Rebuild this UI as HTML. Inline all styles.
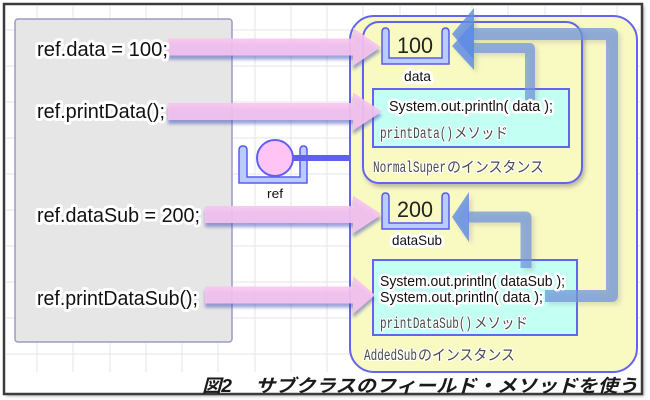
<!DOCTYPE html>
<html><head><meta charset="utf-8"><style>
html,body{margin:0;padding:0;background:#fff;}
svg{display:block}
.code{font-family:"Liberation Sans",sans-serif;font-size:20px;fill:#111;stroke:#fff;stroke-width:6;stroke-linejoin:round;paint-order:stroke}
.num{font-family:"Liberation Sans",sans-serif;font-size:22px;fill:#222}
.lbl{font-family:"Liberation Sans",sans-serif;font-size:14px;fill:#111;stroke:#fff;stroke-width:6;stroke-linejoin:round;paint-order:stroke}
.pr{font-family:"Liberation Sans",sans-serif;font-size:15px;fill:#111;stroke:#fff;stroke-width:5;stroke-linejoin:round;paint-order:stroke}
.gm{font-family:"Liberation Mono",monospace;font-size:16px;fill:#4a4a4a;stroke:#fff;stroke-width:2.5;stroke-linejoin:round;paint-order:stroke}
.gk{font-family:"Liberation Sans","Noto Sans CJK JP",sans-serif;font-size:15px;fill:#4a4a4a;stroke:#fff;stroke-width:2.5;stroke-linejoin:round;paint-order:stroke}
.cap{font-family:"Liberation Sans","Noto Sans CJK JP",sans-serif;font-size:18px;font-style:italic;fill:#1a1a1a;font-weight:bold}
</style></head><body>
<svg width="650" height="400" viewBox="0 0 650 400" xmlns="http://www.w3.org/2000/svg">
<defs>
<filter id="blur" x="-10%" y="-30%" width="120%" height="160%"><feGaussianBlur stdDeviation="1.5"/></filter>
<filter id="ds" x="-10%" y="-10%" width="125%" height="125%"><feDropShadow dx="2" dy="3" stdDeviation="2" flood-color="#777" flood-opacity=".5"/></filter>
<filter id="bs" x="-20%" y="-20%" width="140%" height="140%"><feDropShadow dx="3" dy="3" stdDeviation="2" flood-color="#888" flood-opacity=".35"/></filter>
</defs>

<!-- frame -->
<rect x="6" y="6" width="638" height="390" fill="#aaa" filter="url(#blur)"/>
<rect x="4" y="4" width="638" height="390" fill="#fff" stroke="#3c3c3c" stroke-width="2.5"/>

<!-- grid -->
<g stroke="#e6e6e6" stroke-width="1">
<line x1="37" y1="6" x2="37" y2="372"/><line x1="73" y1="6" x2="73" y2="372"/><line x1="110" y1="6" x2="110" y2="372"/><line x1="146" y1="6" x2="146" y2="372"/><line x1="182" y1="6" x2="182" y2="372"/><line x1="218" y1="6" x2="218" y2="372"/><line x1="255" y1="6" x2="255" y2="372"/><line x1="291" y1="6" x2="291" y2="372"/><line x1="327" y1="6" x2="327" y2="372"/><line x1="363" y1="6" x2="363" y2="372"/><line x1="400" y1="6" x2="400" y2="372"/><line x1="436" y1="6" x2="436" y2="372"/><line x1="472" y1="6" x2="472" y2="372"/><line x1="508" y1="6" x2="508" y2="372"/><line x1="545" y1="6" x2="545" y2="372"/><line x1="581" y1="6" x2="581" y2="372"/><line x1="617" y1="6" x2="617" y2="372"/>
<line x1="6" y1="30" x2="640" y2="30"/><line x1="6" y1="66" x2="640" y2="66"/><line x1="6" y1="102" x2="640" y2="102"/><line x1="6" y1="138" x2="640" y2="138"/><line x1="6" y1="174" x2="640" y2="174"/><line x1="6" y1="210" x2="640" y2="210"/><line x1="6" y1="246" x2="640" y2="246"/><line x1="6" y1="282" x2="640" y2="282"/><line x1="6" y1="318" x2="640" y2="318"/><line x1="6" y1="354" x2="640" y2="354"/>
</g>

<!-- gray box -->
<rect x="15" y="19" width="217" height="323" rx="3" fill="#e6e6e6" stroke="#9c9cc4" stroke-width="1.5"/>

<!-- yellow container -->
<rect x="350" y="16" width="287" height="356" rx="24" fill="#f9f9c2" stroke="#6464f0" stroke-width="2"/>
<rect x="363" y="22" width="219" height="161" rx="16" fill="#f9f9c2" stroke="#6464f0" stroke-width="2" filter="url(#ds)"/>

<!-- cyan boxes -->
<rect x="373" y="89" width="196" height="58" fill="#c4fff4" stroke="#6464f0" stroke-width="2"/>
<rect x="373" y="260" width="204" height="75" fill="#c4fff4" stroke="#6464f0" stroke-width="2"/>

<!-- cups -->
<path d="M382,32 Q382,28 385.5,28 Q389,28 389,32 V58 H442 V32 Q442,28 445.5,28 Q449,28 449,32 V64 H382 Z" fill="#b8ccff" stroke="#5a5af0" stroke-width="1.5"/>
<path d="M382,197 Q382,193 385.5,193 Q389,193 389,197 V223 H442 V197 Q442,193 445.5,193 Q449,193 449,197 V229 H382 Z" fill="#b8ccff" stroke="#5a5af0" stroke-width="1.5"/>

<!-- ref cup -->
<path d="M239,150 Q239,146 243,146 Q247,146 247,150 V177 H300 V150 Q300,146 303.5,146 Q307,146 307,150 V183 H239 Z" fill="#b8ccff" stroke="#5a5af0" stroke-width="1.5"/>
<line x1="290" y1="158" x2="350" y2="158" stroke="#6060f0" stroke-width="6"/>
<circle cx="275" cy="158" r="18" fill="#ffc4f4" stroke="#6060f0" stroke-width="2"/>

<!-- blue arrows -->
<g filter="url(#bs)">
<polyline points="545,296 612,296 612,34 472,34" fill="none" stroke="#6d94dd" stroke-width="12" stroke-linejoin="round" opacity=".72"/>
<polygon points="452,34 474,8 474,60" fill="#5d8be6" opacity=".8"/>
<polyline points="530,100 530,48 472,48" fill="none" stroke="#6d94dd" stroke-width="10" stroke-linejoin="round" opacity=".72"/>
<polygon points="452,46 474,22 474,70" fill="#5d8be6" opacity=".8"/>
<polyline points="526,268 526,217 468,217" fill="none" stroke="#6d94dd" stroke-width="11" stroke-linejoin="round" opacity=".72"/>
<polygon points="452,217 469,192 469,242" fill="#5d8be6" opacity=".8"/>
</g>

<!-- pink arrows: shadows -->
<g fill="#4858b8" opacity=".55" filter="url(#blur)">
<path d="M168,42.5 H353 V32 L381,51 L353,70 V59.5 H168 Z"/>
<path d="M168,107 H353 V96.5 L382,115.5 L353,134.5 V124 H168 Z"/>
<path d="M205,210 H353 V199.5 L382,218.5 L353,237.5 V227 H205 Z"/>
<path d="M205,290.5 H353 V280 L375,299 L353,318 V307.5 H205 Z"/>
</g>
<!-- pink arrows -->
<g fill="#f8c4f0" opacity=".9">
<path d="M168,38.5 H353 V28 L381,47 L353,66 V55.5 H168 Z"/>
<path d="M168,103 H353 V92.5 L382,111.5 L353,130.5 V120 H168 Z"/>
<path d="M205,206 H353 V195.5 L382,214.5 L353,233.5 V223 H205 Z"/>
<path d="M205,286.5 H353 V276 L375,295 L353,314 V303.5 H205 Z"/>
</g>

<!-- left code text -->
<text class="code" x="37" y="56" textLength="131" lengthAdjust="spacingAndGlyphs">ref.data = 100;</text>
<text class="code" x="37" y="118" textLength="128" lengthAdjust="spacingAndGlyphs">ref.printData();</text>
<text class="code" x="37" y="222" textLength="163" lengthAdjust="spacingAndGlyphs">ref.dataSub = 200;</text>
<text class="code" x="37" y="305" textLength="161" lengthAdjust="spacingAndGlyphs">ref.printDataSub();</text>

<!-- cup values -->
<text class="num" x="397" y="53" textLength="36" lengthAdjust="spacingAndGlyphs">100</text>
<text class="num" x="397" y="217" textLength="36" lengthAdjust="spacingAndGlyphs">200</text>
<text class="lbl" x="404" y="81" textLength="27" lengthAdjust="spacingAndGlyphs">data</text>
<text class="lbl" x="392" y="245" textLength="50" lengthAdjust="spacingAndGlyphs">dataSub</text>
<text class="lbl" x="267" y="198" style="font-size:13px" textLength="16" lengthAdjust="spacingAndGlyphs">ref</text>

<!-- method code -->
<text class="pr" x="389" y="111" textLength="164" lengthAdjust="spacingAndGlyphs">System.out.println( data );</text>
<text class="pr" x="380" y="286" textLength="185" lengthAdjust="spacingAndGlyphs">System.out.println( dataSub );</text>
<text class="pr" x="380" y="302" textLength="163" lengthAdjust="spacingAndGlyphs">System.out.println( data );</text>

<!-- gray labels -->
<text class="gm" x="380" y="138" textLength="73" lengthAdjust="spacingAndGlyphs">printData()</text>
<text class="gk" x="454" y="138" textLength="54" lengthAdjust="spacingAndGlyphs">メソッド</text>
<text class="gm" x="373" y="172" textLength="73" lengthAdjust="spacingAndGlyphs">NormalSuper</text>
<text class="gk" x="447" y="172" textLength="97" lengthAdjust="spacingAndGlyphs">のインスタンス</text>
<text class="gm" x="380" y="328" textLength="92" lengthAdjust="spacingAndGlyphs">printDataSub()</text>
<text class="gk" x="474" y="328" textLength="54" lengthAdjust="spacingAndGlyphs">メソッド</text>
<text class="gm" x="364" y="360" textLength="53" lengthAdjust="spacingAndGlyphs">AddedSub</text>
<text class="gk" x="418" y="360" textLength="97" lengthAdjust="spacingAndGlyphs">のインスタンス</text>

<!-- caption -->
<text class="cap" x="202" y="392" textLength="30" lengthAdjust="spacingAndGlyphs">図2</text>
<text class="cap" x="255" y="392" textLength="383" lengthAdjust="spacingAndGlyphs">サブクラスのフィールド・メソッドを使う</text>
</svg>
</body></html>
